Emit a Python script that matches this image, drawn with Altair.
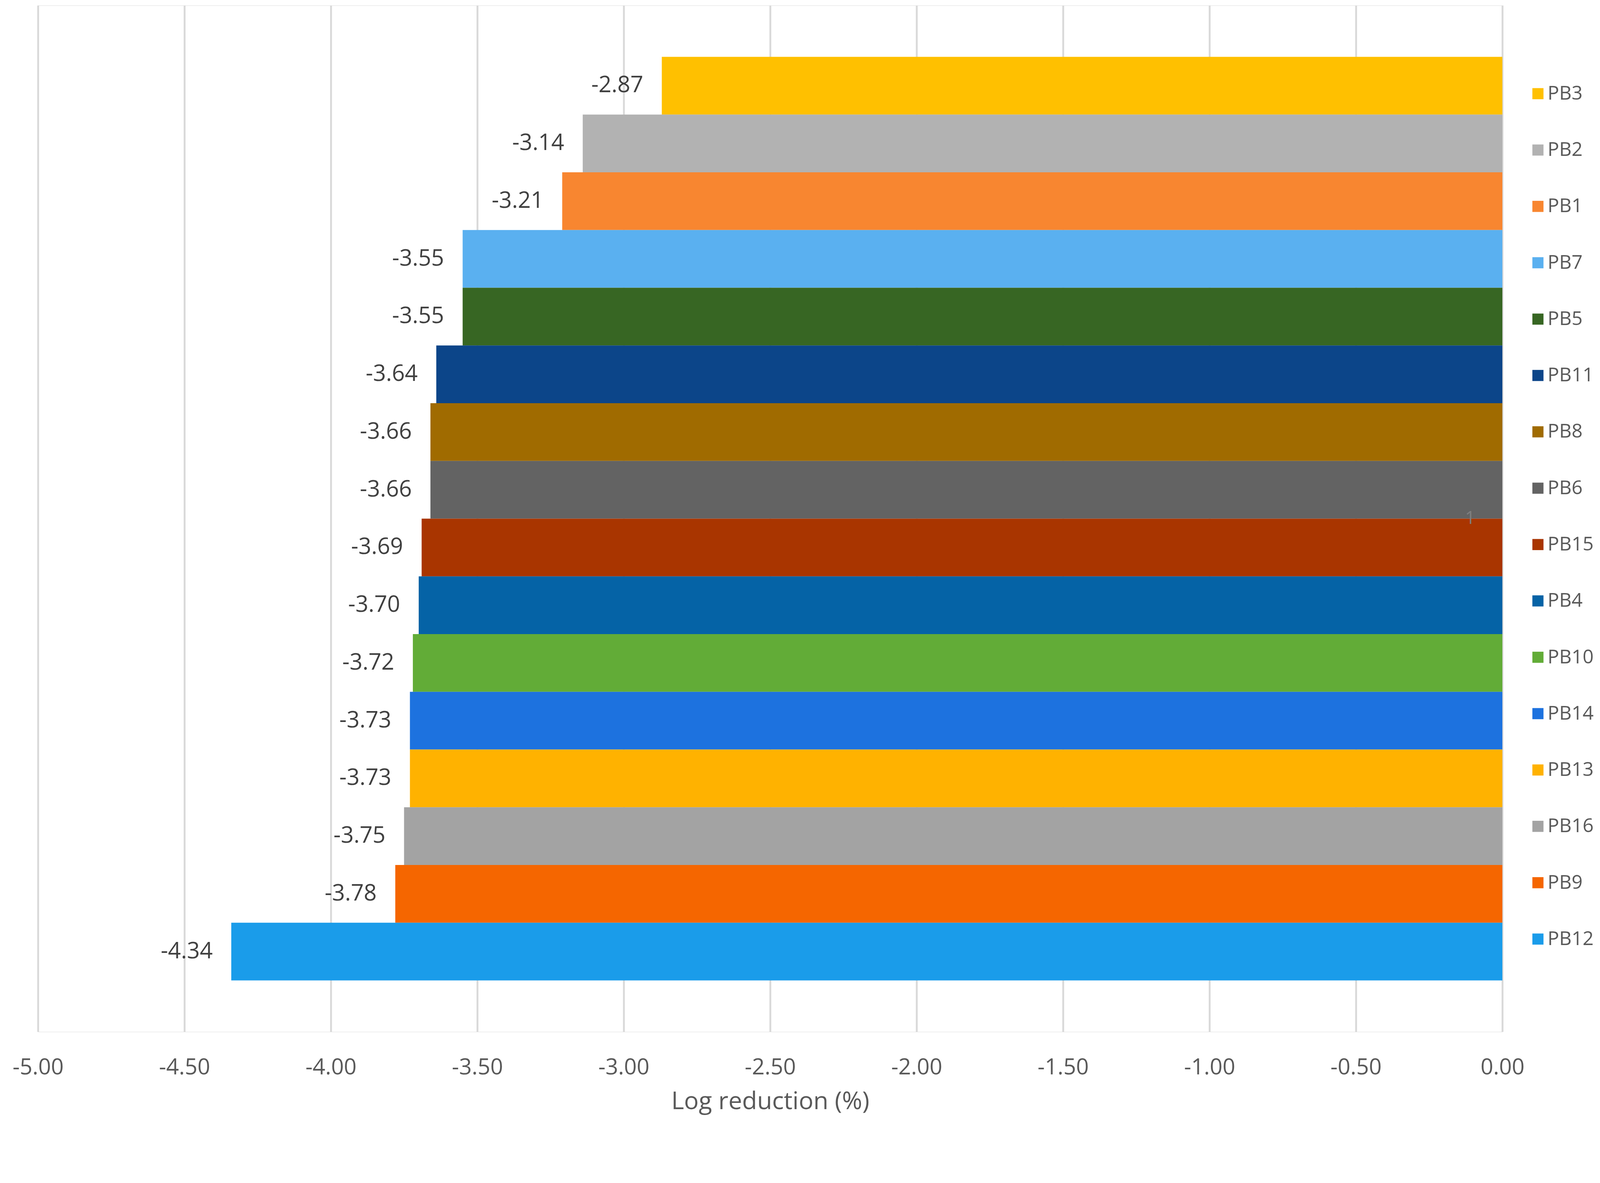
import altair as alt
import pandas as pd

categories = ["PB3", "PB2", "PB1", "PB7", "PB5", "PB11", "PB8", "PB6",
              "PB15", "PB4", "PB10", "PB14", "PB13", "PB16", "PB9", "PB12"]
values = [-2.87, -3.14, -3.21, -3.55, -3.55, -3.64, -3.66, -3.66,
          -3.69, -3.70, -3.72, -3.73, -3.73, -3.75, -3.78, -4.34]
colors = ["#FFC000", "#B2B2B2", "#F88630", "#5AB0F0", "#376623", "#0C4589",
          "#A06B00", "#636363", "#A93500", "#0563A6", "#62AC37", "#1D72DF",
          "#FFB200", "#A3A3A3", "#F56600", "#1A9CEA"]
x_ticks = [-5.0, -4.5, -4.0, -3.5, -3.0, -2.5, -2.0, -1.5, -1.0, -0.5, 0.0]

ann_x = [-0.11]
ann_cat = ["PB15"]
ann_text = ["1"]

df = pd.DataFrame({"cat": categories, "val": values})
df["lab"] = [f"{v:.2f}" for v in values]
ann = pd.DataFrame({"cat": ann_cat, "val": ann_x, "t": ann_text})

FONT = "Open Sans"

y_enc = alt.Y("cat:N", sort=categories,
              scale=alt.Scale(paddingInner=0, paddingOuter=0.89),
              axis=None)
x_enc = alt.X("val:Q",
              scale=alt.Scale(domain=[-5, 0], nice=False),
              axis=alt.Axis(values=x_ticks, grid=True, labelFlush=False,
                            labelExpr="replace(format(datum.value, '.2f'), '\u2212', '-')",
                            gridColor="#D9D9D9", gridWidth=5,
                            domain=False, ticks=False,
                            labelFontSize=60, labelColor="#595959",
                            labelFont=FONT, labelPadding=68,
                            title="Log reduction (%)", titleFontSize=66,
                            titleFont=FONT, titleFontWeight="normal",
                            titleColor="#595959", titlePadding=29))

bars = alt.Chart(df).mark_bar(strokeWidth=0).encode(
    color=alt.Color("cat:N", sort=categories,
                    scale=alt.Scale(domain=categories, range=colors),
                    legend=alt.Legend(title=None, orient="none",
                                      legendX=4020, legendY=212,
                                      direction="vertical", columns=1,
                                      symbolType="square", symbolSize=900,
                                      symbolStrokeWidth=0,
                                      labelFontSize=52, labelFont=FONT,
                                      labelColor="#595959", labelOffset=0,
                                      rowPadding=100, padding=0)),
)

labels = alt.Chart(df).mark_text(align="right", baseline="middle", dx=-50,
                                 fontSize=61, font=FONT, color="#404040").encode(
    text="lab:N",
)

note = alt.Chart(ann).mark_text(align="center", baseline="middle", yOffset=-78,
                                fontSize=48, font=FONT, color="#7F7F7F").encode(
    text="t:N",
)

chart = alt.layer(bars, labels, note).encode(
    x=x_enc,
    y=y_enc,
).properties(
    width=3950, height=2768,
    autosize=alt.AutoSizeParams(type="none"),
    padding={"left": 94, "top": -72, "right": 255, "bottom": 218},
).configure_view(stroke=None).configure(background="white")

chart.save("out.html", embed_options={"renderer": "svg", "actions": False})
